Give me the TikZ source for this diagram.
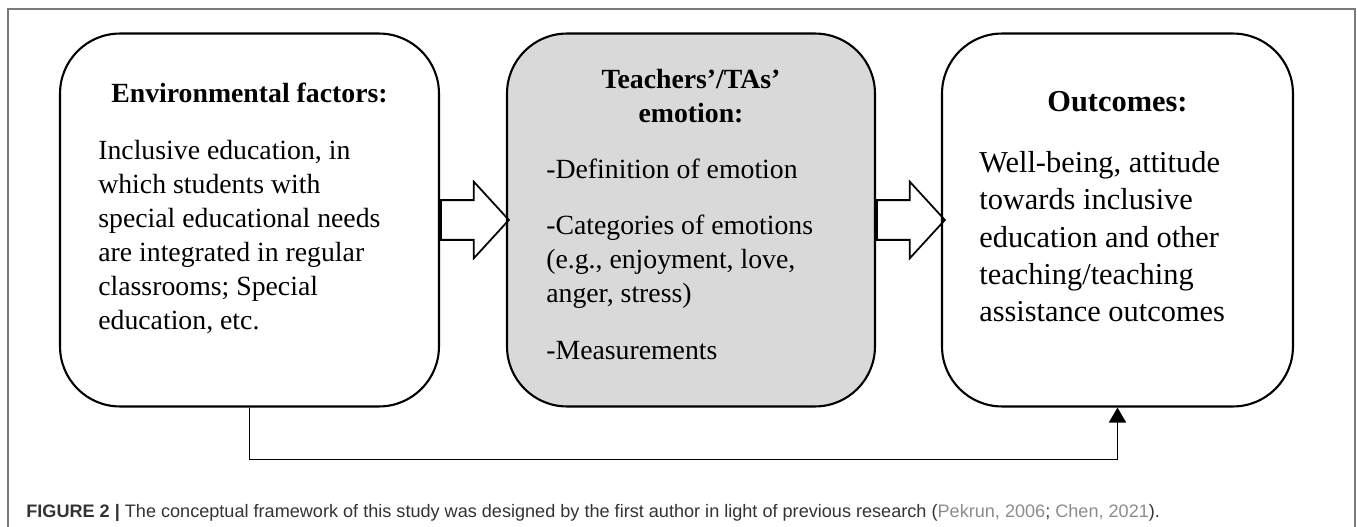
\documentclass[tikz,border=0pt]{standalone}
\usepackage{fontspec}
\setmainfont{Liberation Serif}
\newfontfamily\captionfont{Liberation Sans}
\usepackage{xcolor}
\usetikzlibrary{positioning,shapes.arrows,arrows.meta}
\definecolor{boxgray}{HTML}{D9D9D9}
\definecolor{framegray}{HTML}{7A7A7A}
\definecolor{captiongray}{HTML}{333333}
\definecolor{linkgray}{HTML}{8C8C8C}
\tikzset{
    factor-box/.style = {draw, line width=1.2pt, rectangle, rounded corners=1.2cm, minimum height=7.46cm, inner sep=0pt},
    factor-box-title/.style = {font=\fontsize{15.8}{19.4}\selectfont\bfseries, align=center, inner sep=0pt, anchor=base},
    factor-box-text/.style = {font=\fontsize{15.8}{19.4}\selectfont, align=left, inner sep=0pt, anchor=base west},
    block-arrow/.style = {draw, line width=1pt, single arrow, single arrow tip angle=95, single arrow head extend=0.37cm, inner xsep=0pt, inner ysep=0.38cm, minimum height=1.36cm, anchor=west},
}

\begin{document}
\begin{tikzpicture}[x=0.02cm, y=-0.02cm]
\useasboundingbox (0,0) rectangle (1357,527);
\draw[framegray, line width=0.8pt] (8,527) |- (1355,9) -- (1355,527);

% the three boxes
\node[factor-box, minimum width=7.58cm] (envbox) at (249.5,220) {};
\node[factor-box, minimum width=7.36cm, fill=boxgray] (emobox) at (691,220) {};
\node[factor-box, minimum width=7.02cm] (outbox) at (1117.5,220) {};

% texts (multi-line nodes sit on their last line)
\node[factor-box-title] (envtitle) at ([yshift=-1.41cm]envbox.north) {Environmental factors:};
\node[factor-box-text] (envtext) at ([xshift=0.78cm, yshift=-5.95cm]envbox.north west) {Inclusive education, in\\
    which students with\\
    special educational needs\\
    are integrated in regular\\
    classrooms; Special\\
    education, etc.};

\node[factor-box-title] (emotitle) at ([yshift=-1.81cm]emobox.north) {Teachers'/TAs'\\emotion:};
\node[factor-box-text] (emodef) at ([xshift=0.8cm, yshift=-2.93cm]emobox.north west) {-Definition of emotion};
\node[factor-box-text] (emocat) at ([xshift=0.8cm, yshift=-5.41cm]emobox.north west) {-Categories of emotions\\
    (e.g., enjoyment, love,\\
    anger, stress)};
\node[factor-box-text] (emomeas) at ([xshift=0.8cm, yshift=-6.55cm]emobox.north west) {-Measurements};

\node[factor-box-title, font=\fontsize{17.3}{21}\selectfont\bfseries] (outtitle) at ([yshift=-1.58cm]outbox.north) {Outcomes:};
\node[factor-box-text, font=\fontsize{17.3}{21.3}\selectfont] (outtext) at ([xshift=0.76cm, yshift=-5.79cm]outbox.north west) {Well-being, attitude\\
    towards inclusive\\
    education and other\\
    teaching/teaching\\
    assistance outcomes};

% arrows
\node[block-arrow, right=0pt of envbox] (arrow1) {};
\node[block-arrow, right=0pt of emobox] (arrow2) {};
\draw[line width=1pt, -{Triangle[length=0.3cm, width=0.34cm]}] (envbox.south) -- ++(0,52) -| (outbox.south);

\node[anchor=base west, inner sep=0pt, font=\captionfont\fontsize{10.3}{12}\selectfont, text=captiongray] (caption) at (26,517.5)
    {\textbf{FIGURE 2 |} The conceptual framework of this study was designed by the first author in light of previous research ({\color{linkgray}Pekrun, 2006}; {\color{linkgray}Chen, 2021}).};
\end{tikzpicture}
\end{document}
